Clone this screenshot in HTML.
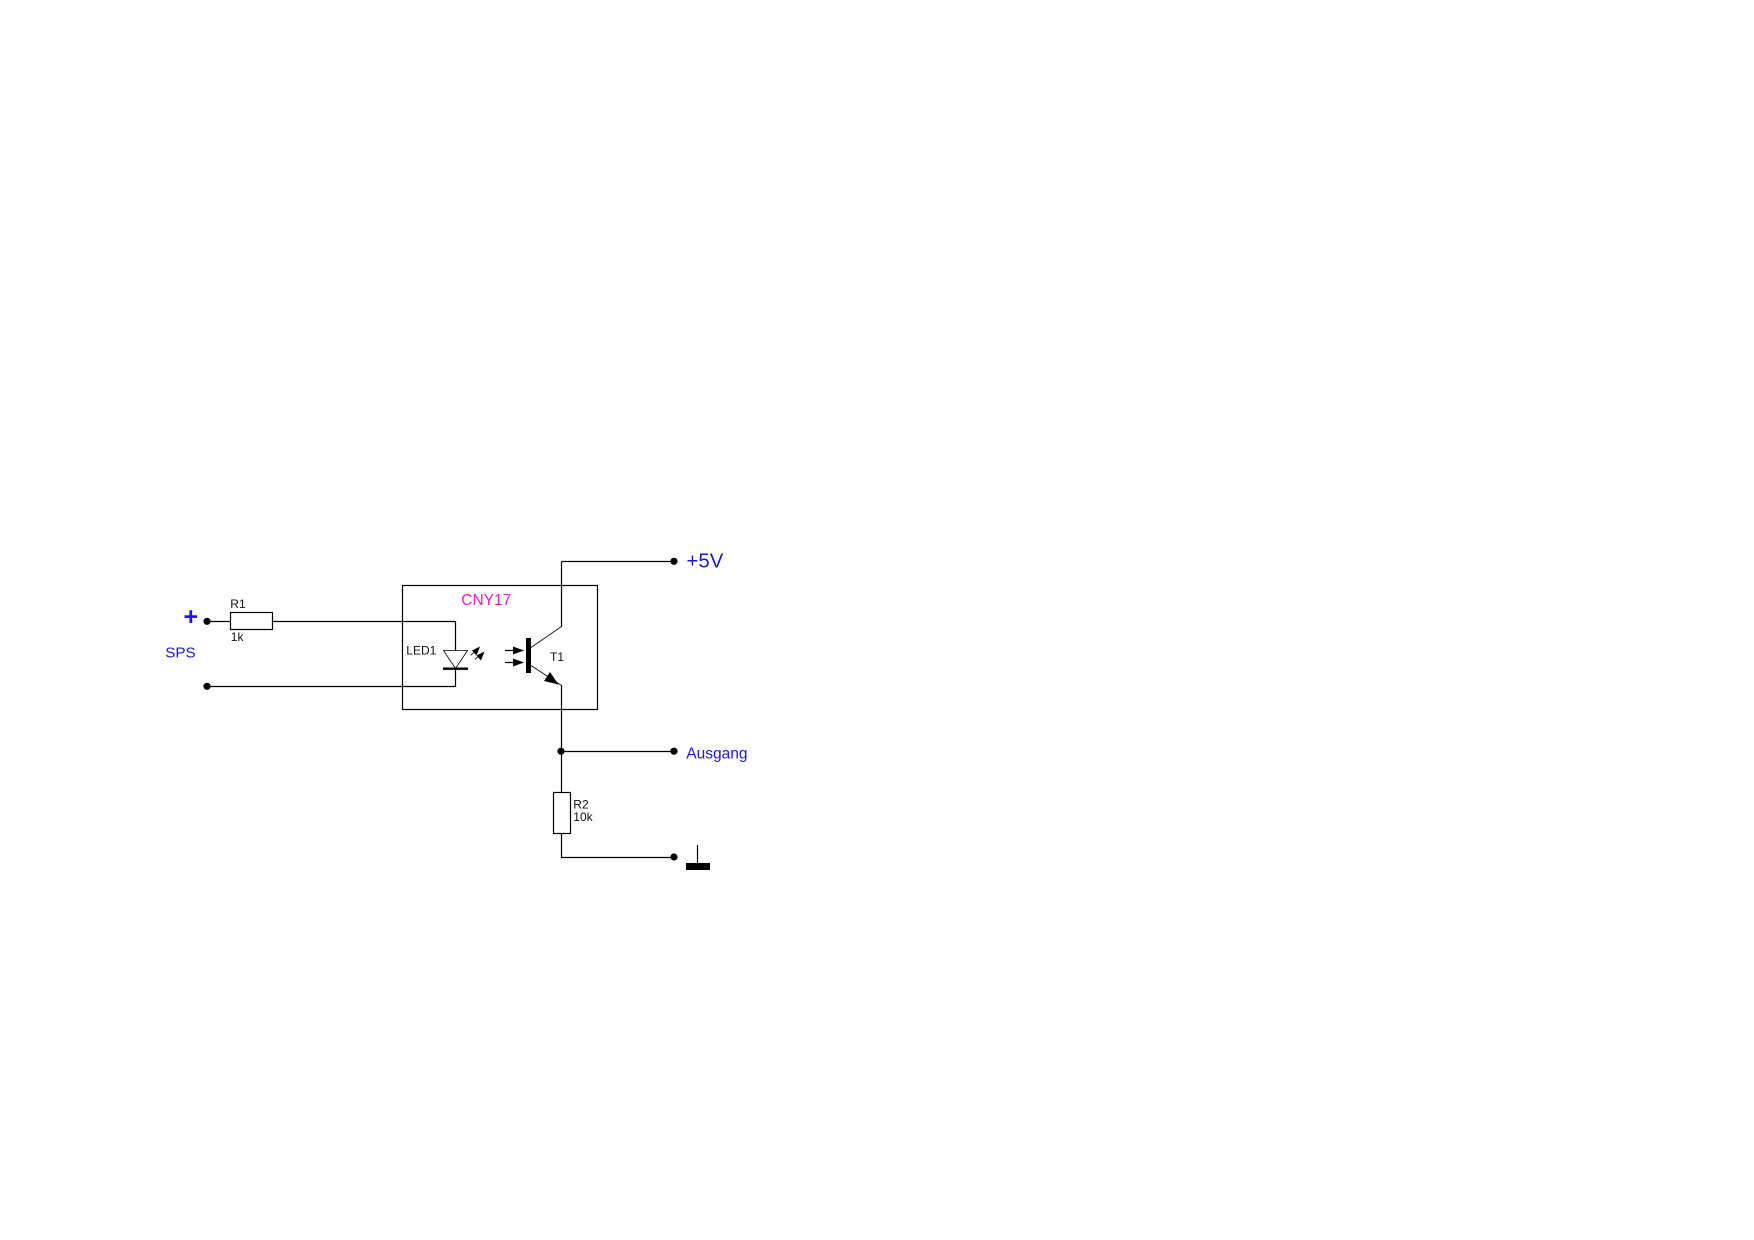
<!DOCTYPE html>
<html>
<head>
<meta charset="utf-8">
<title>CNY17</title>
<style>
html,body{margin:0;padding:0;background:#fff;width:1754px;height:1240px;overflow:hidden}
svg{display:block}
text{font-family:"Liberation Sans",sans-serif}
</style>
</head>
<body>
<svg width="1754" height="1240" viewBox="0 0 1754 1240" xmlns="http://www.w3.org/2000/svg">
<rect width="1754" height="1240" fill="#fff"/>
<g fill="none" stroke="#000" stroke-width="1.2">
  <rect x="402.5" y="585.5" width="195" height="124"/>
  <rect x="230.5" y="612.5" width="42" height="17"/>
  <rect x="553.5" y="792.5" width="17" height="41"/>
  <path d="M207 621.5H230.5M272.5 621.5H455.5V650.5M207 686.5H455.5V668"/>
  <path d="M561.5 561.5H674M561.5 561.5V626.5"/>
  <path d="M561.5 685.5V792.5M561.5 751.5H674M561.5 833.5V857.5H674"/>
  <path d="M505 650.5H520M505 662.5H520"/>
  <path d="M697.5 845V864"/>
</g>
<g fill="none" stroke="#000" stroke-width="0.8">
  <path d="M443.5 650.5H467.5L455.5 668.5Z"/>
  <path d="M561.5 626.5L531 647.5"/>
  <path d="M531 665.5L561.5 685.5"/>
  <path d="M470.7 655.3L478 648.5M475 659.3L482 653"/>
</g>
<g fill="#000" stroke="none">
  <rect x="443" y="667.5" width="25" height="2.4"/>
  <rect x="526" y="638" width="5" height="35"/>
  <rect x="686" y="863" width="24" height="7"/>
  <circle cx="207" cy="621.3" r="3.6"/>
  <circle cx="207" cy="686.3" r="3.6"/>
  <circle cx="674" cy="561.3" r="3.6"/>
  <circle cx="561" cy="751.2" r="3.6"/>
  <circle cx="674" cy="751.2" r="3.6"/>
  <circle cx="674" cy="857" r="3.6"/>
  <path d="M558.5 684.5L550 672L544 681Z"/>
  <path d="M524 650.5L513 646.5V654.5Z"/>
  <path d="M524 662.5L513 658.5V666.5Z"/>
  <path d="M480 646.5L472 650.5L476.5 655.5Z"/>
  <path d="M484.5 651.5L476.5 655.5L481 660.5Z"/>
</g>
<g fill="#111" font-size="12">
  <text x="230.3" y="607.8">R1</text>
  <text x="230.8" y="641">1k</text>
  <text x="406.3" y="654.4">LED1</text>
  <text x="550" y="661">T1</text>
  <text x="573.3" y="808.5">R2</text>
  <text x="573.3" y="821">10k</text>
</g>
<g fill="#1a1ad0">
  <text x="183.5" y="625" font-size="25" font-weight="bold">+</text>
  <text x="165.2" y="657.6" font-size="15.2">SPS</text>
  <text x="686.5" y="567.7" font-size="20.4">+5V</text>
  <text x="686.3" y="758.3" font-size="15.5">Ausgang</text>
</g>
<text x="461.3" y="605.2" font-size="15.5" fill="#e020c8">CNY17</text>
</svg>
</body>
</html>
